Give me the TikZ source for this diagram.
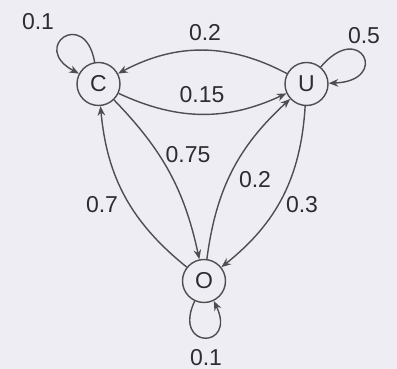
\documentclass[tikz,border=0pt]{standalone}
\usepackage{fontspec}
\setmainfont{Liberation Sans}
\usepackage{xcolor}
\usetikzlibrary{arrows.meta}
\definecolor{paperbg}{RGB}{238,237,243}
\definecolor{linegray}{RGB}{78,78,80}
\definecolor{textgray}{RGB}{45,45,48}
\tikzset{
  statenode/.style={circle, draw=linegray, line width=0.7pt, minimum size=21.5pt, inner sep=0pt, text=textgray},
  trans/.style={draw=linegray, line width=0.7pt, -{Stealth[length=4.8pt,width=3.8pt]}},
  prob/.style={text=textgray, inner sep=0pt}
}

\begin{document}
\begin{tikzpicture}[x=0.5pt, y=0.5pt, font=\fontsize{11.5}{13}\selectfont]
        \fill[paperbg] (0,0) rectangle (397,369);
        \useasboundingbox (0,0) rectangle (397,369);
        % States
        \node[statenode] (C) at (98.5,285) {C};
        \node[statenode] (U) at (306.5,285) {U};
        \node[statenode] (O) at (204,88) {O};
        % Transitions between states
        \foreach \a/\b/\ang in {U/C/-28, C/U/-25, C/O/16, O/C/23, O/U/20, U/O/24} {
            \draw[trans] (\a) to[bend left=\ang] (\b);
        }
        % Self loops
        \draw[trans] (C) to[out=100, in=152, distance=28pt] (C);
        \draw[trans] (U) to[out=50, in=2, distance=31pt] (U);
        \draw[trans] (O) to[out=245, in=296, distance=27pt] (O);
        % Probabilities
        \foreach \nm/\x/\y/\txt in {pCC/38/347/0.1, pUC/205/336/0.2, pUU/364/333/0.5,
                pCU/202/274/0.15, pCO/188/214/0.75, pOC/102/164/0.7,
                pOU/255/189/0.2, pUO/302/164/0.3, pOO/206/11/0.1} {
            \node[prob] (\nm) at (\x,\y) {\txt};
        }
\end{tikzpicture}
\end{document}
